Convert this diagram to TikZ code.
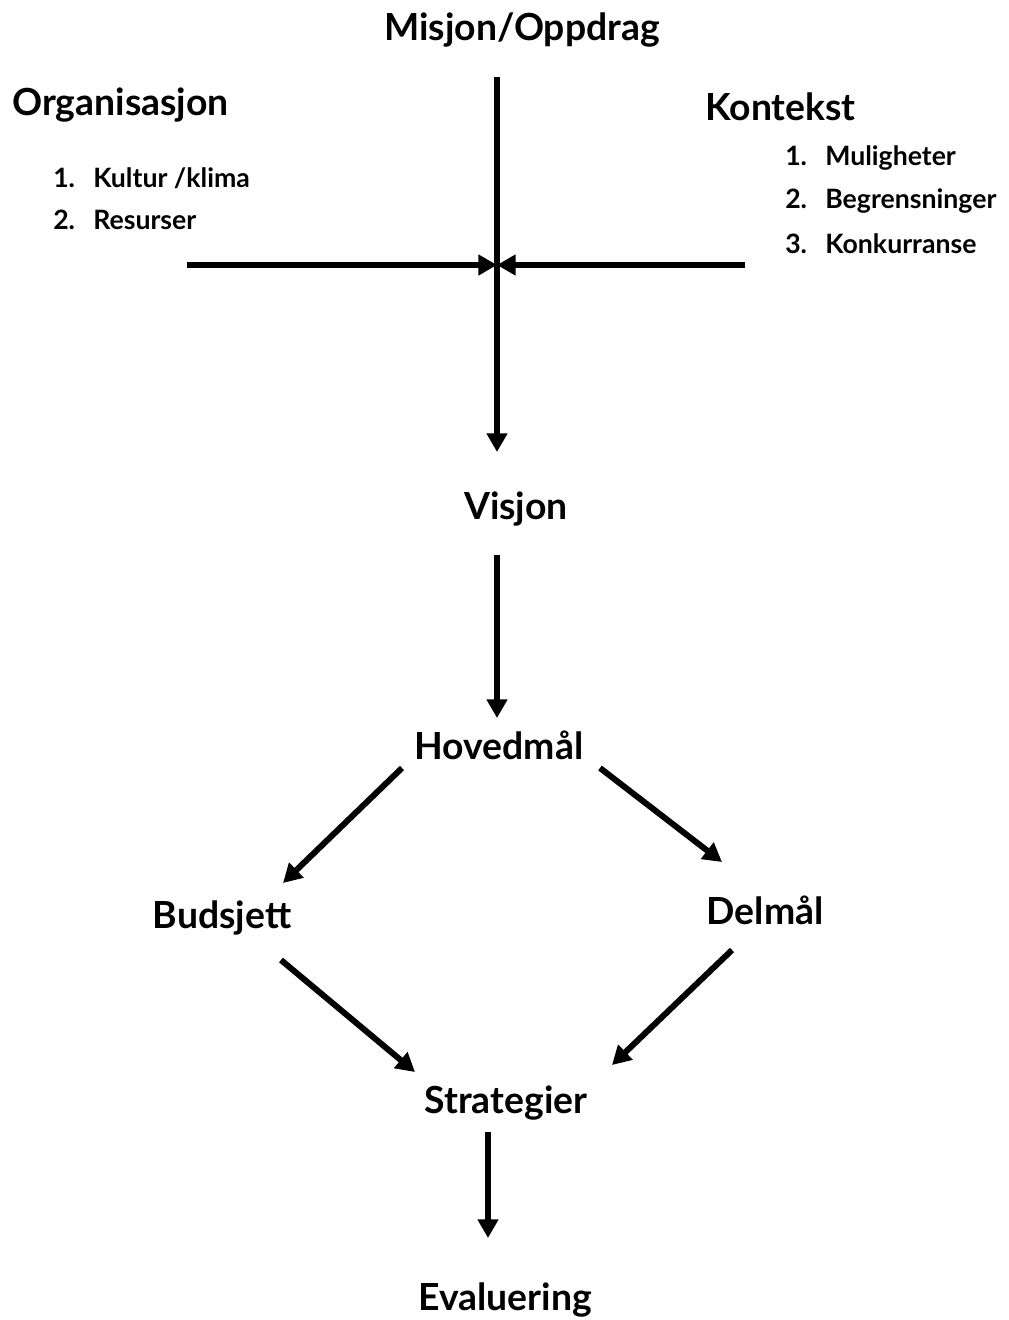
\documentclass[tikz,border=0pt]{standalone}
\usepackage{fontspec}
\setmainfont{Lato}
\usetikzlibrary{arrows.meta}
\newcommand{\numbox}[1]{\makebox[30pt][l]{#1}}
\begin{document}
\begin{tikzpicture}[x=0.75pt,y=-0.75pt,
  big/.style={font=\fontsize{28}{30}\selectfont\bfseries, inner sep=0pt},
  small/.style={font=\fontsize{20}{22}\selectfont\bfseries, inner sep=0pt, anchor=west},
  arr/.style={line width=4.5pt, -{Triangle[width=15pt,length=14pt]}}]
\useasboundingbox (0,0) rectangle (1009,1320);
\node[big] (misjon) at (522,30) {Misjon/Oppdrag};
\node[big,anchor=west] (org) at (12,105) {Organisasjon};
\node[big,anchor=west] (kon) at (705,107) {Kontekst};
\node[small] (o1) at (53,178) {\numbox{1.}Kultur /klima};
\node[small] (o2) at (53,220) {\numbox{2.}Resurser};
\node[small] (k1) at (785,158) {\numbox{1.}Muligheter};
\node[small] (k2) at (785,201) {\numbox{2.}Begrensninger};
\node[small] (k3) at (785,244) {\numbox{3.}Konkurranse};
\node[big] (visjon) at (516,509) {Visjon};
\node[big] (hoved) at (499,745) {Hovedmål};
\node[big] (bud) at (222,918) {Budsjett};
\node[big] (del) at (765,910) {Delmål};
\node[big] (strat) at (506,1103) {Strategier};
\node[big] (eval) at (505,1300) {Evaluering};
\coordinate (vtop) at (497,77);
\coordinate (vbot) at (497,452);
\coordinate (cross) at (497,265);
\coordinate (hl) at (187,265);
\coordinate (hr) at (745,265);
\coordinate (v1a) at (497,555);
\coordinate (v1b) at (497,718);
\coordinate (b1a) at (402,768);
\coordinate (b1b) at (283,883);
\coordinate (d1a) at (600,768);
\coordinate (d1b) at (722,862);
\coordinate (b2a) at (281,960);
\coordinate (b2b) at (415,1072);
\coordinate (d2a) at (732,950);
\coordinate (d2b) at (612,1065);
\coordinate (s1a) at (488,1132);
\coordinate (s1b) at (488,1238);
\draw[arr] (vtop) -- (vbot);
\draw[arr] (hl) -- (cross);
\draw[arr] (hr) -- (cross);
\draw[arr] (v1a) -- (v1b);
\draw[arr] (b1a) -- (b1b);
\draw[arr] (d1a) -- (d1b);
\draw[arr] (b2a) -- (b2b);
\draw[arr] (d2a) -- (d2b);
\draw[arr] (s1a) -- (s1b);
\end{tikzpicture}
\end{document}
